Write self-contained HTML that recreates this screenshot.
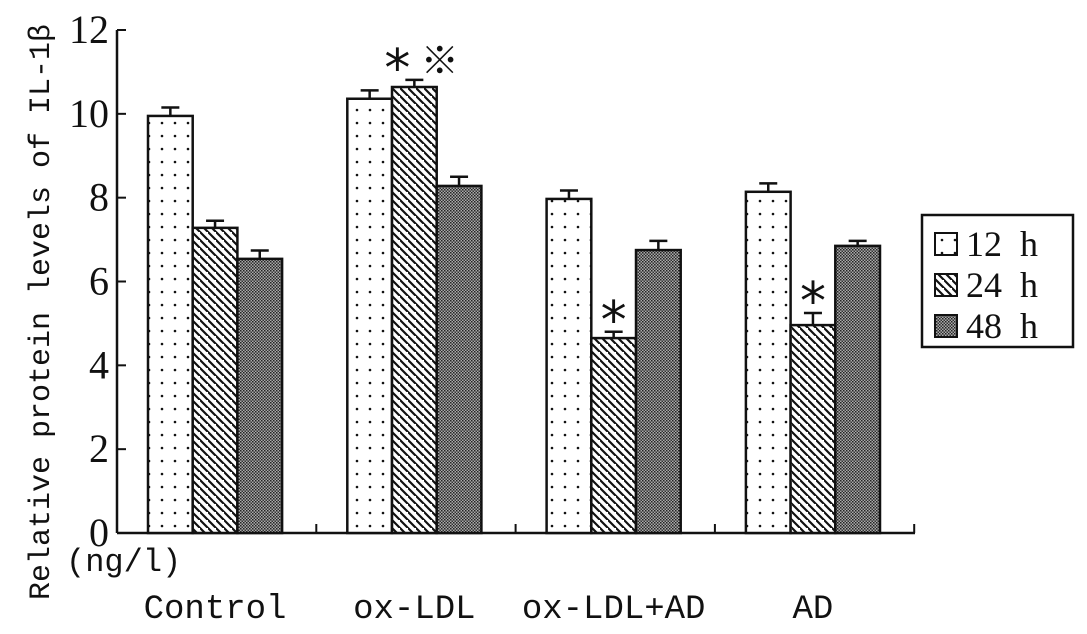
<!DOCTYPE html>
<html><head><meta charset="utf-8"><style>
html,body{margin:0;padding:0;background:#fff;}
svg{display:block}
text{fill:#111}
</style></head><body>
<svg id="chart" width="1087" height="634" viewBox="0 0 1087 634" xmlns="http://www.w3.org/2000/svg">
<defs>
<pattern id="pDots" width="13" height="13" patternUnits="userSpaceOnUse"><rect width="13" height="13" fill="#fff"/><circle cx="6" cy="6" r="1.3" fill="#111"/></pattern>
<pattern id="pHatch" width="8" height="8" patternUnits="userSpaceOnUse"><rect width="8" height="8" fill="#fff"/><path d="M-2,-2 L10,10 M-6,2 L2,10 M6,-6 L14,2" stroke="#111" stroke-width="2.2"/></pattern>
<pattern id="pCheck" width="3" height="3" patternUnits="userSpaceOnUse"><rect width="3" height="3" fill="#aaa"/><rect width="1.5" height="1.5" fill="#222"/><rect x="1.5" y="1.5" width="1.5" height="1.5" fill="#333"/></pattern>
</defs>
<g id="axes"></g>
<g id="bars"></g>
<g id="legend"></g>
</svg>
<script>
const categories = ["Control","ox-LDL","ox-LDL+AD","AD"];
const seriesNames = ["12 h","24 h","48 h"];
const v12 = [9.95, 10.36, 7.97, 8.14];
const v24 = [7.28, 10.64, 4.65, 4.96];
const v48 = [6.54, 8.28, 6.75, 6.85];
const e12 = [0.2, 0.2, 0.2, 0.2];
const e24 = [0.17, 0.17, 0.15, 0.29];
const e48 = [0.2, 0.22, 0.22, 0.12];
const marks24 = ["", "*", "*", "*"];
const yTicks = [0,2,4,6,8,10,12];

const NS="http://www.w3.org/2000/svg";
const x0=117, y0=533, yTop=30, groupW=199.3, barW=44.7, firstOff=31;
const yScale=v=>y0-(y0-yTop)*v/12;
const xBar=(g,s)=>x0+firstOff+g*groupW+s*barW;
function mk(tag,attrs,parent,txt){const e=document.createElementNS(NS,tag);for(const k in attrs)e.setAttribute(k,attrs[k]);if(txt!==undefined)e.textContent=txt;parent.appendChild(e);return e;}
const axes=document.getElementById('axes'), bars=document.getElementById('bars'), legend=document.getElementById('legend');

let yAxis=mk('line',{x1:x0,y1:yTop,x2:x0,y2:y0,stroke:'#111','stroke-width':2.5},axes);


let xAxis=mk('line',{x1:x0,y1:y0,x2:915,y2:y0,stroke:'#111','stroke-width':2.5},axes);


yTicks.forEach(t=>{
  const y=yScale(t);
  let tk=mk('line',{x1:x0,y1:y,x2:x0+9,y2:y,stroke:'#111','stroke-width':2},axes);
  
  
  let lb=mk('text',{x:x0-8,y:y+13,'text-anchor':'end','font-family':'Liberation Serif, serif','font-size':40},axes,String(t));
  
  
});
for(let g=1;g<=4;g++){
  const x=x0+g*groupW;
  let tk=mk('line',{x1:x,y1:y0,x2:x,y2:y0-9,stroke:'#111','stroke-width':2},axes);
  
  
}
categories.forEach((c,g)=>{
  const cx=x0+firstOff+g*groupW+1.5*barW;
  let lb=mk('text',{x:cx,y:618,'text-anchor':'middle','font-family':'Liberation Mono, monospace','font-size':34},axes,c);
  
  
});
let unit=mk('text',{x:66,y:571,'font-family':'Liberation Mono, monospace','font-size':32},axes,'(ng/l)');


let yt=mk('text',{x:0,y:0,transform:'translate(49,312) rotate(-90)','text-anchor':'middle','font-family':'Liberation Mono, monospace','font-size':30},axes,'Relative protein levels of IL-1β');



const fills=['url(#pDots)','url(#pHatch)','url(#pCheck)'];
const vals=[v12,v24,v48], errs=[e12,e24,e48];
categories.forEach((c,g)=>{
  for(let s=0;s<3;s++){
    const v=vals[s][g], e=errs[s][g];
    const x=xBar(g,s), y=yScale(v);
    let r=mk('rect',{x:x,y:y,width:barW,height:y0-y,fill:fills[s],stroke:'#111','stroke-width':2.5},bars);
    
    
    const ye=yScale(v+e), cx=x+barW/2;
    let eb=mk('path',{d:`M${cx},${y} L${cx},${ye} M${cx-9},${ye} L${cx+9},${ye}`,stroke:'#111','stroke-width':2.5,fill:'none'},bars);
    
    
    if(s===1 && marks24[g]){
      let st=mk('text',{x:(g===1?cx-17:cx),y:ye+6,'text-anchor':'middle','font-family':'DejaVu Sans, sans-serif','font-size':52},bars,marks24[g]);
      
      
    }
  }
});
let ref=mk('text',{x:xBar(1,2)+3,y:yScale(v24[1]+e24[1])-6,'text-anchor':'middle','font-family':'Noto Sans CJK SC, sans-serif','font-size':38},bars,'※');



let lb=mk('rect',{x:922,y:215,width:151,height:132,fill:'#fff',stroke:'#111','stroke-width':2.5},legend);


seriesNames.forEach((n,i)=>{
  const cy=244+i*41;
  let sw=mk('rect',{x:935,y:cy-11,width:22,height:22,fill:fills[i],stroke:'#111','stroke-width':2},legend);
  
  
  let t=mk('text',{x:966,y:cy+12,'font-family':'Liberation Serif, serif','font-size':36},legend,n.replace(' ','\u00a0\u00a0'));
  
  
});
</script>
</body></html>
